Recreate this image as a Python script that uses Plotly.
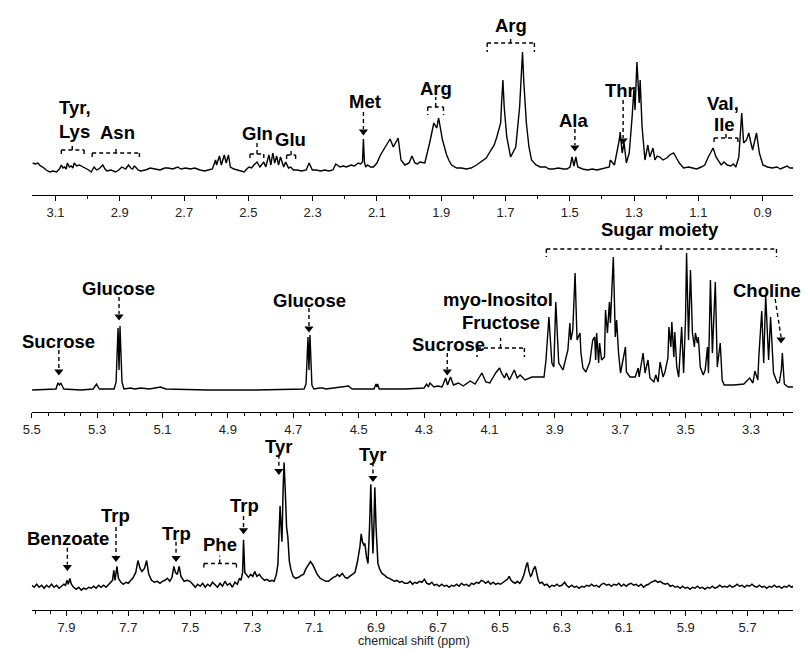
import plotly.graph_objects as go

# ---------------- spectra (ppm, relative intensity) ----------------
p1 = [(3.171,9),(3.163,8),(3.155,9),(3.147,6),(3.140,5),(3.129,2),(3.118,0),(3.108,1),(3.097,0),(3.088,3),(3.082,7),(3.077,4),(3.072,5),(3.067,3),(3.063,9),(3.057,5),(3.051,6),(3.046,4),(3.042,9),(3.034,6),(3.026,7),(3.015,5),(3.005,4),(2.997,2),(2.989,0),(2.980,5),(2.975,3),(2.971,2),(2.962,4),(2.953,7),(2.946,3),(2.940,1),(2.927,2),(2.913,0),(2.903,2),(2.894,5),(2.888,4),(2.882,3),(2.873,7),(2.866,4),(2.860,3),(2.855,6),(2.851,5),(2.843,2),(2.836,1),(2.820,2),(2.805,4),(2.790,3),(2.775,2),(2.760,4),(2.750,4),(2.735,3),(2.720,5),(2.710,3),(2.695,4),(2.680,3),(2.667,4),(2.650,2),(2.636,1),(2.625,2),(2.612,3),(2.602,12),(2.599,7),(2.590,16),(2.584,7),(2.575,17),(2.569,9),(2.562,17),(2.556,5),(2.545,3),(2.535,2),(2.524,1),(2.513,0),(2.505,3),(2.498,5),(2.490,4),(2.483,7),(2.473,10),(2.464,5),(2.452,10),(2.446,5),(2.436,17),(2.430,7),(2.424,19),(2.418,9),(2.412,16),(2.406,7),(2.400,15),(2.390,5),(2.384,10),(2.375,4),(2.368,5),(2.360,2),(2.348,2),(2.335,1),(2.320,2),(2.311,9),(2.301,2),(2.289,2),(2.275,1),(2.262,2),(2.250,1),(2.237,2),(2.228,8),(2.215,5),(2.205,6),(2.195,5),(2.181,7),(2.170,6),(2.158,9),(2.151,8),(2.145,10),(2.142,33),(2.139,10),(2.135,5),(2.129,7),(2.120,5),(2.111,5),(2.100,9),(2.089,17),(2.074,25),(2.066,30),(2.059,33),(2.049,25),(2.034,34),(2.025,12),(2.013,7),(2.000,9),(1.991,16),(1.982,9),(1.974,8),(1.966,10),(1.951,9),(1.936,29),(1.923,49),(1.914,44),(1.908,54),(1.896,32),(1.883,17),(1.875,11),(1.868,7),(1.852,4),(1.837,4),(1.822,3),(1.807,4),(1.790,7),(1.776,10),(1.760,14),(1.745,22),(1.735,27),(1.727,35),(1.715,49),(1.712,70),(1.708,92),(1.704,65),(1.696,35),(1.684,15),(1.668,25),(1.656,65),(1.651,95),(1.647,120),(1.643,90),(1.635,49),(1.627,25),(1.619,12),(1.605,7),(1.592,5),(1.575,5),(1.565,3),(1.552,3),(1.535,4),(1.520,3),(1.509,3),(1.499,5),(1.493,15),(1.487,6),(1.481,15),(1.475,5),(1.460,3),(1.445,2),(1.430,3),(1.415,2),(1.400,3),(1.388,4),(1.377,5),(1.374,12),(1.361,7),(1.346,32),(1.343,40),(1.337,19),(1.331,29),(1.324,9),(1.315,19),(1.306,55),(1.300,85),(1.297,62),(1.291,110),(1.284,69),(1.281,92),(1.275,45),(1.266,12),(1.257,27),(1.251,15),(1.241,24),(1.235,12),(1.228,16),(1.220,15),(1.210,12),(1.198,14),(1.189,17),(1.177,19),(1.168,14),(1.159,9),(1.146,4),(1.130,5),(1.118,4),(1.105,3),(1.091,5),(1.080,7),(1.069,15),(1.060,20),(1.054,24),(1.045,15),(1.029,7),(1.020,10),(1.010,7),(0.999,6),(0.991,8),(0.983,5),(0.974,15),(0.965,59),(0.959,29),(0.950,32),(0.943,39),(0.937,30),(0.931,22),(0.919,39),(0.910,19),(0.899,7),(0.885,5),(0.870,4),(0.855,5),(0.845,3),(0.836,4),(0.824,6),(0.815,4),(0.805,4)]

p2 = [(5.499,0),(5.448,1),(5.426,1),(5.420,7),(5.415,5),(5.411,7),(5.402,1),(5.350,0),(5.312,1),(5.302,6),(5.293,1),(5.248,1),(5.242,8),(5.236,62),(5.233,20),(5.230,64),(5.224,8),(5.218,1),(5.197,2),(5.185,1),(5.166,2),(5.140,1),(5.106,3),(5.090,1),(4.964,0),(4.812,0),(4.667,1),(4.661,6),(4.655,53),(4.652,20),(4.649,55),(4.643,5),(4.637,1),(4.620,2),(4.610,2),(4.600,1),(4.531,4),(4.520,1),(4.453,1),(4.447,6),(4.444,3),(4.442,6),(4.437,1),(4.419,1),(4.359,1),(4.300,2),(4.292,6),(4.287,3),(4.282,7),(4.270,3),(4.258,4),(4.245,3),(4.234,12),(4.228,5),(4.219,13),(4.210,5),(4.195,7),(4.180,4),(4.159,9),(4.144,6),(4.129,13),(4.123,17),(4.111,8),(4.099,7),(4.081,17),(4.069,22),(4.063,17),(4.054,12),(4.048,17),(4.039,10),(4.024,20),(4.015,12),(4.006,15),(3.991,10),(3.970,13),(3.949,13),(3.933,13),(3.927,30),(3.918,73),(3.909,27),(3.903,23),(3.897,88),(3.888,27),(3.875,20),(3.860,40),(3.854,67),(3.851,50),(3.845,60),(3.838,117),(3.832,50),(3.823,57),(3.820,37),(3.814,22),(3.805,18),(3.793,28),(3.784,50),(3.778,53),(3.775,30),(3.772,57),(3.766,27),(3.763,47),(3.757,30),(3.748,33),(3.745,80),(3.739,57),(3.733,88),(3.730,67),(3.721,133),(3.715,53),(3.711,70),(3.705,37),(3.699,17),(3.684,43),(3.681,18),(3.670,13),(3.654,13),(3.645,22),(3.642,13),(3.630,37),(3.624,17),(3.615,30),(3.609,12),(3.597,8),(3.591,15),(3.584,8),(3.578,28),(3.569,13),(3.563,18),(3.554,32),(3.551,63),(3.545,43),(3.542,68),(3.536,33),(3.533,58),(3.527,23),(3.521,13),(3.512,63),(3.506,17),(3.500,73),(3.497,137),(3.491,50),(3.485,120),(3.479,57),(3.473,43),(3.470,57),(3.464,47),(3.461,53),(3.455,23),(3.446,15),(3.440,20),(3.433,43),(3.430,17),(3.424,110),(3.418,37),(3.415,57),(3.409,108),(3.403,23),(3.400,30),(3.394,47),(3.388,10),(3.382,5),(3.352,5),(3.322,6),(3.304,12),(3.294,7),(3.288,19),(3.279,10),(3.276,33),(3.267,79),(3.261,27),(3.255,95),(3.246,30),(3.240,73),(3.231,17),(3.219,7),(3.213,8),(3.207,20),(3.204,37),(3.200,15),(3.198,6),(3.186,3),(3.171,3)]

p3 = [(8.012,1),(8.004,-1),(7.996,2),(7.988,-1),(7.980,1),(7.972,-2),(7.964,1),(7.956,-1),(7.948,2),(7.940,-1),(7.932,1),(7.924,-2),(7.916,0),(7.908,2),(7.903,1),(7.898,6),(7.894,2),(7.889,8),(7.884,2),(7.877,-1),(7.868,-3),(7.860,-1),(7.852,-4),(7.844,-2),(7.836,-3),(7.828,-1),(7.820,-2),(7.812,0),(7.804,-2),(7.796,1),(7.788,-1),(7.780,1),(7.772,-1),(7.764,2),(7.756,4),(7.751,6),(7.747,16),(7.743,6),(7.737,20),(7.732,8),(7.724,4),(7.716,2),(7.708,4),(7.700,3),(7.692,6),(7.686,8),(7.676,14),(7.669,26),(7.662,18),(7.656,15),(7.648,18),(7.641,26),(7.634,12),(7.625,6),(7.616,4),(7.606,5),(7.598,3),(7.590,5),(7.582,6),(7.574,8),(7.566,5),(7.559,9),(7.553,20),(7.548,14),(7.542,12),(7.536,20),(7.530,10),(7.520,5),(7.510,6),(7.501,5),(7.492,2),(7.484,-1),(7.476,2),(7.468,0),(7.460,3),(7.452,-1),(7.444,2),(7.436,0),(7.428,4),(7.420,1),(7.412,-1),(7.404,3),(7.396,0),(7.388,5),(7.380,1),(7.372,3),(7.364,-1),(7.356,4),(7.348,2),(7.341,8),(7.336,6),(7.331,14),(7.328,47),(7.324,14),(7.319,12),(7.312,9),(7.305,12),(7.298,10),(7.292,15),(7.285,10),(7.277,12),(7.268,8),(7.260,6),(7.252,7),(7.244,5),(7.236,6),(7.229,5),(7.222,12),(7.217,22),(7.213,60),(7.210,81),(7.206,55),(7.204,45),(7.200,100),(7.197,125),(7.193,95),(7.189,60),(7.185,50),(7.180,25),(7.175,17),(7.168,10),(7.160,8),(7.150,9),(7.142,11),(7.134,12),(7.126,18),(7.118,22),(7.112,25),(7.105,22),(7.098,17),(7.090,12),(7.080,8),(7.070,6),(7.062,5),(7.054,5),(7.046,7),(7.038,9),(7.030,10),(7.025,12),(7.018,10),(7.009,13),(7.000,9),(6.993,8),(6.985,10),(6.976,12),(6.968,14),(6.960,25),(6.952,40),(6.948,53),(6.944,45),(6.940,42),(6.936,43),(6.931,30),(6.926,23),(6.921,60),(6.917,103),(6.913,60),(6.910,33),(6.907,60),(6.904,100),(6.900,60),(6.894,23),(6.888,17),(6.881,13),(6.872,11),(6.865,9),(6.857,8),(6.850,7),(6.840,5),(6.832,6),(6.824,4),(6.816,5),(6.808,3),(6.798,3),(6.790,5),(6.782,2),(6.776,4),(6.768,3),(6.760,5),(6.752,4),(6.744,7),(6.736,3),(6.728,2),(6.720,4),(6.712,1),(6.704,2),(6.696,0),(6.688,2),(6.680,0),(6.672,1),(6.664,-1),(6.656,1),(6.648,0),(6.640,2),(6.632,0),(6.624,3),(6.616,1),(6.608,2),(6.600,0),(6.592,3),(6.584,2),(6.576,4),(6.568,3),(6.560,6),(6.553,5),(6.546,3),(6.538,5),(6.530,2),(6.522,4),(6.514,2),(6.506,3),(6.498,2),(6.490,4),(6.482,6),(6.476,7),(6.470,10),(6.464,6),(6.457,4),(6.450,3),(6.444,5),(6.436,3),(6.428,7),(6.422,12),(6.415,21),(6.411,24),(6.406,15),(6.401,10),(6.398,11),(6.392,17),(6.386,20),(6.381,14),(6.376,6),(6.371,3),(6.364,4),(6.356,1),(6.348,2),(6.340,-1),(6.332,1),(6.324,0),(6.316,2),(6.308,0),(6.300,1),(6.291,4),(6.285,1),(6.277,-1),(6.268,1),(6.260,-1),(6.252,0),(6.244,-2),(6.236,0),(6.228,-1),(6.220,1),(6.212,0),(6.204,2),(6.196,0),(6.188,1),(6.180,-1),(6.172,2),(6.164,3),(6.156,1),(6.148,2),(6.140,0),(6.132,2),(6.124,1),(6.116,3),(6.108,0),(6.100,2),(6.092,0),(6.084,2),(6.076,3),(6.068,1),(6.060,2),(6.052,0),(6.044,2),(6.036,-1),(6.028,1),(6.020,2),(6.012,4),(6.004,5),(5.998,6),(5.990,4),(5.982,5),(5.974,3),(5.966,2),(5.958,3),(5.950,0),(5.942,1),(5.934,-1),(5.926,0),(5.918,-2),(5.910,0),(5.902,-2),(5.894,-1),(5.886,-3),(5.878,-1),(5.870,-2),(5.862,0),(5.854,-2),(5.846,-1),(5.838,-3),(5.830,-1),(5.822,-2),(5.814,0),(5.806,-2),(5.798,-1),(5.790,1),(5.782,-1),(5.774,0),(5.766,-1),(5.758,1),(5.750,-1),(5.742,0),(5.734,2),(5.726,0),(5.718,1),(5.710,-1),(5.702,1),(5.694,0),(5.686,2),(5.678,0),(5.670,-1),(5.662,1),(5.654,-1),(5.646,0),(5.638,-2),(5.630,0),(5.622,-1),(5.614,1),(5.606,-1),(5.598,0),(5.590,-2),(5.582,0),(5.574,-1),(5.566,1),(5.558,-1),(5.553,0)]

# ---------------- axis settings ----------------
x_ranges = [(3.174, 0.805), (5.5, 3.171), (8.012, 5.553)]
tick0s = [0.9, 3.3, 5.7]
minor_steps = [0.1, 0.05, 0.05]
y_ranges = [(-23, 172), (-22, 175), (-24, 168)]
y_domains = [(0.7, 1.0), (0.36615, 0.66923), (0.06154, 0.35385)]

# ---------------- labels: (text, ppm, height, xanchor) ----------------
labels = [
    [("Tyr,", 3.094, 65, "left"), ("Lys", 3.094, 41, "left"), ("Asn", 2.906, 40, "center"),
     ("Gln", 2.473, 39, "center"), ("Glu", 2.369, 33, "center"), ("Met", 2.138, 71, "center"),
     ("Arg", 1.917, 84, "center"), ("Arg", 1.684, 147, "center"), ("Ala", 1.487, 52, "center"),
     ("Thr", 1.343, 82, "center"), ("Val,", 1.023, 69, "center"), ("Ile", 1.017, 48, "center")],
    [("Sucrose", 5.417, 49, "center"), ("Glucose", 5.236, 102, "center"), ("Glucose", 4.649, 90, "center"),
     ("Sucrose", 4.226, 46, "center"), ("myo-Inositol", 4.075, 91, "center"), ("Fructose", 4.066, 68, "center"),
     ("Sugar moiety", 3.578, 161, "center"), ("Choline", 3.251, 100, "center")],
    [("Benzoate", 7.894, 48, "center"), ("Trp", 7.740, 71, "center"), ("Trp", 7.546, 53, "center"),
     ("Phe", 7.405, 42, "center"), ("Trp", 7.325, 82, "center"), ("Tyr", 7.214, 141, "center"),
     ("Tyr", 6.910, 133, "center")],
]

# arrows: (ppm_top, h_top, ppm_tip, h_tip)
arrows = [
    [(2.142, 60, 2.142, 37), (1.484, 43, 1.484, 21), (1.334, 72, 1.334, 28)],
    [(5.417, 40, 5.417, 15), (5.233, 93, 5.233, 70), (4.652, 82, 4.652, 58),
     (4.229, 37, 4.229, 15), (3.226, 91, 3.208, 47)],
    [(7.897, 39, 7.897, 16), (7.740, 60, 7.740, 25), (7.546, 45, 7.546, 25),
     (7.328, 71, 7.328, 53), (7.214, 133, 7.214, 113), (6.910, 125, 6.910, 106)],
]

# brackets: (ppm_left, ppm_right, h_line, h_ends, ppm_mid, h_mid)
brackets = [
    [(3.082, 3.011, 22, 17, 3.048, 29), (2.986, 2.839, 19, 12, 2.912, 25),
     (2.495, 2.452, 18, 12, 2.473, 30), (2.381, 2.353, 17, 12, 2.367, 23),
     (1.942, 1.893, 65, 57, 1.917, 75), (1.757, 1.610, 129, 120, 1.684, 135),
     (1.051, 0.977, 34, 28, 1.014, 40)],
    [(4.138, 3.993, 42, 33, 4.066, 52), (3.926, 3.222, 141, 133, 3.575, 147)],
    [(7.456, 7.351, 23, 16, 7.405, 31)],
]

FONT = "Liberation Sans, Arial, sans-serif"
DASH = "4px,3px"

fig = go.Figure()
shapes = []
annotations = []
spectra = [p1, p2, p3]
for i, data in enumerate(spectra):
    xa = "x" if i == 0 else f"x{i+1}"
    ya = "y" if i == 0 else f"y{i+1}"
    fig.add_trace(go.Scatter(
        x=[d[0] for d in data], y=[d[1] for d in data], mode="lines",
        line=dict(color="black", width=1.5 if i == 2 else 1.4),
        xaxis=xa, yaxis=ya, hoverinfo="skip", showlegend=False))
    hx, hy = [], []
    for (x0, y0, x1, y1) in arrows[i]:
        shapes.append(dict(type="line", xref=xa, yref=ya, x0=x0, y0=y0, x1=x1, y1=y1 + 6,
                           line=dict(color="black", width=1.4, dash=DASH)))
        hx.append(x1)
        hy.append(y1 + 3.5)
    fig.add_trace(go.Scatter(x=hx, y=hy, mode="markers", xaxis=xa, yaxis=ya,
                             marker=dict(symbol="triangle-down", size=8, color="black"),
                             hoverinfo="skip", showlegend=False))
    for (xl, xr, hl, he, xm, hm) in brackets[i]:
        for seg in [(xl, hl, xr, hl), (xl, hl, xl, he), (xr, hl, xr, he), (xm, hl, xm, hm)]:
            shapes.append(dict(type="line", xref=xa, yref=ya, x0=seg[0], y0=seg[1], x1=seg[2], y1=seg[3],
                               line=dict(color="black", width=1.4, dash=DASH)))
    for (t, x, y, anc) in labels[i]:
        annotations.append(dict(text=f"<b>{t}</b>", x=x, y=y, xref=xa, yref=ya, showarrow=False,
                                xanchor=anc, yanchor="middle",
                                font=dict(family=FONT, size=18.5, color="black")))

annotations.append(dict(text="chemical shift (ppm)", x=410 / 805, y=0.0, xref="paper", yref="paper",
                        showarrow=False, xanchor="center", yanchor="bottom", yshift=0,
                        font=dict(family=FONT, size=12.5, color="#222")))

layout = dict(width=805, height=650, margin=dict(l=0, r=0, t=0, b=0),
              paper_bgcolor="white", plot_bgcolor="white",
              shapes=shapes, annotations=annotations, showlegend=False)
for i in range(3):
    xk = "xaxis" if i == 0 else f"xaxis{i+1}"
    yk = "yaxis" if i == 0 else f"yaxis{i+1}"
    ya = "y" if i == 0 else f"y{i+1}"
    xa = "x" if i == 0 else f"x{i+1}"
    layout[xk] = dict(domain=[23 / 805, 793 / 805], range=list(x_ranges[i]), anchor=ya,
                      showline=True, linecolor="black", linewidth=1, mirror=False,
                      ticks="outside", ticklen=5, tickcolor="black", tickwidth=1,
                      tick0=tick0s[i], dtick=0.2, tickformat=".1f",
                      minor=dict(ticks="outside", ticklen=3, tickcolor="black", dtick=minor_steps[i], tick0=tick0s[i]),
                      showgrid=False, zeroline=False,
                      tickfont=dict(family=FONT, size=13, color="#222"))
    layout[yk] = dict(domain=list(y_domains[i]), range=list(y_ranges[i]), anchor=xa,
                      visible=False, showgrid=False, zeroline=False)

fig.update_layout(**layout)
fig.write_html("out.html")
